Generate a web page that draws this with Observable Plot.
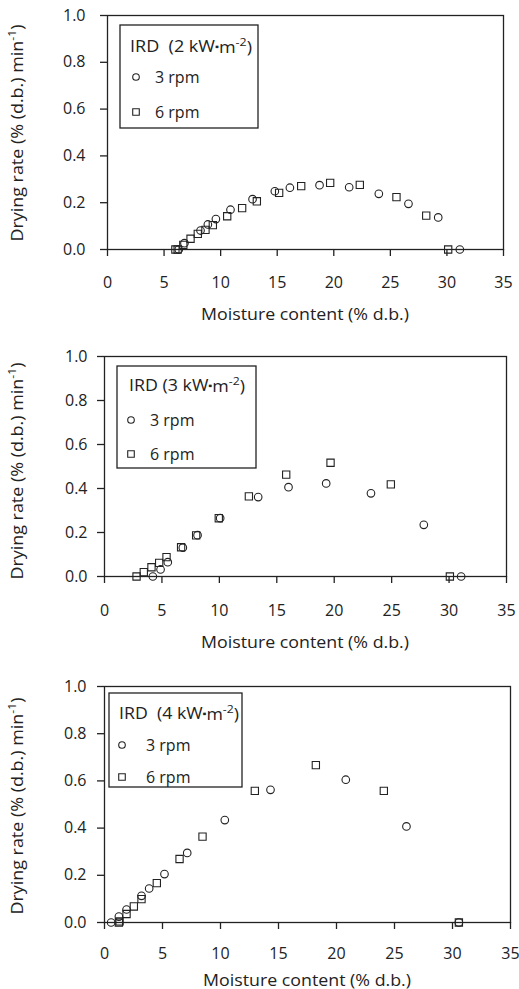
<!DOCTYPE html>
<html><head><meta charset="utf-8">
<script src="https://cdn.jsdelivr.net/npm/d3@7"></script>
<script src="https://cdn.jsdelivr.net/npm/@observablehq/plot@0.6"></script>
<style>
body{margin:0;background:#fff;width:519px;height:989px;overflow:hidden;}
#c svg{display:block;}
</style></head><body><div id="c"></div>
<script>
// ---- data ----
const xTicks = [0, 5, 10, 15, 20, 25, 30, 35];
const yTicks = [0, 0.2, 0.4, 0.6, 0.8, 1.0];
const xLabel = "Moisture content (% d.b.)";
const yLabel = "Drying rate (% (d.b.) min";
const seriesNames = ["3 rpm", "6 rpm"];
const powers = ["2", "3", "4"];

// Panel 1: IRD 2 kW·m-2
const p1_3rpm_x = [6.3, 6.8, 8.22, 8.87, 9.58, 10.87, 12.82, 14.79, 16.12, 18.74, 21.36, 23.98, 26.6, 29.23, 31.14];
const p1_3rpm_y = [0, 0.027, 0.081, 0.107, 0.130, 0.170, 0.215, 0.249, 0.264, 0.275, 0.266, 0.238, 0.195, 0.137, 0];
const p1_6rpm_x = [6.0, 6.2, 6.7, 7.34, 7.98, 8.66, 9.31, 10.58, 11.9, 13.2, 15.17, 17.12, 19.68, 22.3, 25.54, 28.17, 30.11];
const p1_6rpm_y = [0, 0, 0.02, 0.046, 0.067, 0.084, 0.104, 0.142, 0.177, 0.206, 0.242, 0.271, 0.285, 0.276, 0.224, 0.145, 0];

// Panel 2: IRD 3 kW·m-2
const p2_3rpm_x = [4.21, 4.88, 5.51, 6.82, 8.1, 10.07, 13.38, 16.02, 19.3, 23.2, 27.8, 31.05];
const p2_3rpm_y = [0, 0.032, 0.065, 0.131, 0.188, 0.265, 0.361, 0.406, 0.423, 0.378, 0.235, 0];
const p2_6rpm_x = [2.79, 3.42, 4.09, 4.76, 5.40, 6.67, 7.98, 9.95, 12.57, 15.82, 19.68, 24.93, 30.07];
const p2_6rpm_y = [0, 0.020, 0.042, 0.062, 0.088, 0.133, 0.187, 0.265, 0.364, 0.463, 0.517, 0.419, 0];

// Panel 3: IRD 4 kW·m-2
const p3_3rpm_x = [0.57, 1.24, 1.90, 3.19, 3.85, 5.17, 7.13, 10.37, 14.31, 20.8, 26.03, 30.55];
const p3_3rpm_y = [0, 0.025, 0.055, 0.113, 0.144, 0.205, 0.295, 0.434, 0.562, 0.605, 0.407, 0];
const p3_6rpm_x = [1.24, 1.30, 1.90, 2.53, 3.19, 4.51, 6.47, 8.45, 12.96, 18.22, 24.08, 30.55];
const p3_6rpm_y = [0, 0.005, 0.036, 0.068, 0.099, 0.167, 0.269, 0.364, 0.558, 0.667, 0.558, 0];

const ink = "#222";
const font = "Open Sans";
const fs = 16;
const zip = (xs, ys) => xs.map((x, i) => ({x, y: ys[i]}));

const panels = [
  {h: 330, mt: 15, mr: 16, mb: 81, ml: 107, xpad: 20, ypad: 15, xlDy: 65, ylX: 17, ylDy: 1,
   c: zip(p1_3rpm_x, p1_3rpm_y), s: zip(p1_6rpm_x, p1_6rpm_y), power: powers[0], sep: "  ",
   lg: {x: 120, y: 25, w: 138, h: 103, tx: 130, ty: 46, tw: 122, sx: 136, lx: 155, r1: 77, r2: 112}},
  {h: 330, mt: 26, mr: 13, mb: 84, ml: 104, xpad: 21, ypad: 10, xlDy: 66, ylX: 17, ylDy: 5,
   c: zip(p2_3rpm_x, p2_3rpm_y), s: zip(p2_6rpm_x, p2_6rpm_y), power: powers[1], sep: " ",
   lg: {x: 117, y: 36, w: 139, h: 102, tx: 129, ty: 55, tw: 116, sx: 131, lx: 150, r1: 90, r2: 124}},
  {h: 329, mt: 26, mr: 9, mb: 67, ml: 104, xpad: 18, ypad: 11, xlDy: 58, ylX: 17, ylDy: 2,
   c: zip(p3_3rpm_x, p3_3rpm_y), s: zip(p3_6rpm_x, p3_6rpm_y), power: powers[2], sep: "  ",
   lg: {x: 109, y: 33, w: 133, h: 94, tx: 119, ty: 53, tw: 120, sx: 122, lx: 146, r1: 85, r2: 117}}
];

const root = document.getElementById("c");
for (const p of panels) {
  const svg = Plot.plot({
    width: 519, height: p.h,
    marginTop: p.mt, marginRight: p.mr, marginBottom: p.mb, marginLeft: p.ml,
    style: {fontFamily: font, fontSize: fs + "px", color: ink, background: "white", overflow: "visible"},
    x: {domain: [0, 35]},
    y: {domain: [0, 1]},
    marks: [
      Plot.frame({stroke: ink, strokeWidth: 1.3}),
      Plot.axisX({ticks: xTicks, tickFormat: d => String(d), tickSize: 7, tickPadding: p.xpad, strokeWidth: 1.3, label: null, fontSize: fs}),
      Plot.axisY({ticks: yTicks, tickFormat: d3.format(".1f"), tickSize: 7, tickPadding: p.ypad, strokeWidth: 1.3, label: null, fontSize: fs}),
      Plot.dot(p.c, {x: "x", y: "y", r: 3.8, stroke: ink, strokeWidth: 1.1, fill: "none"}),
      Plot.dot(p.s, {x: "x", y: "y", symbol: "square", r: 4.1, stroke: ink, strokeWidth: 1.1, fill: "none"})
    ]
  });
  const s = d3.select(svg);
  const fx0 = p.ml, fx1 = 519 - p.mr, fy0 = p.mt, fy1 = p.h - p.mb;
  const tg = s.append("g").attr("font-family", font).attr("font-size", fs).attr("fill", ink).attr("text-anchor", "middle");
  // x axis title
  tg.append("text").attr("x", (fx0 + fx1) / 2).attr("y", fy1 + p.xlDy).attr("dy", "0.35em")
    .attr("textLength", 208).attr("lengthAdjust", "spacingAndGlyphs").text(xLabel);
  // y axis title
  const yl = tg.append("text").attr("transform", `translate(${p.ylX},${(fy0 + fy1) / 2 + p.ylDy}) rotate(-90)`)
    .attr("dy", "0.35em").attr("textLength", 217).attr("lengthAdjust", "spacingAndGlyphs");
  yl.append("tspan").text(yLabel);
  yl.append("tspan").attr("font-size", 11).attr("dy", "-0.6em").text("-1");
  yl.append("tspan").attr("dy", "0.45em").text(")");
  // legend box inside the plot
  const L = p.lg;
  const g = s.append("g").attr("font-family", font).attr("font-size", fs).attr("fill", ink).attr("text-anchor", "start");
  g.append("rect").attr("x", L.x).attr("y", L.y).attr("width", L.w).attr("height", L.h)
    .attr("fill", "white").attr("stroke", ink).attr("stroke-width", 1.3);
  const t = g.append("text").attr("x", L.tx).attr("y", L.ty).attr("dy", "0.35em").attr("xml:space", "preserve")
    .attr("textLength", L.tw).attr("lengthAdjust", "spacingAndGlyphs");
  t.append("tspan").text(`IRD${p.sep}(${p.power} kW`);
  t.append("tspan").attr("font-size", 10).attr("dy", "-0.15em").text("▪");
  t.append("tspan").attr("dy", "0.15em").text("m");
  t.append("tspan").attr("font-size", 11).attr("dy", "-0.6em").text("-2");
  t.append("tspan").attr("dy", "0.45em").text(")");
  g.append("circle").attr("cx", L.sx).attr("cy", L.r1).attr("r", 3.3).attr("fill", "none").attr("stroke", ink).attr("stroke-width", 1.1);
  g.append("path").attr("d", d3.symbol(d3.symbolSquare, Math.PI * 3.7 * 3.7)()).attr("transform", `translate(${L.sx},${L.r2})`)
    .attr("fill", "none").attr("stroke", ink).attr("stroke-width", 1.1);
  g.append("text").attr("x", L.lx).attr("y", L.r1).attr("dy", "0.35em").text(seriesNames[0]);
  g.append("text").attr("x", L.lx).attr("y", L.r2).attr("dy", "0.35em").text(seriesNames[1]);
  root.appendChild(svg);
}
</script>
</body></html>
